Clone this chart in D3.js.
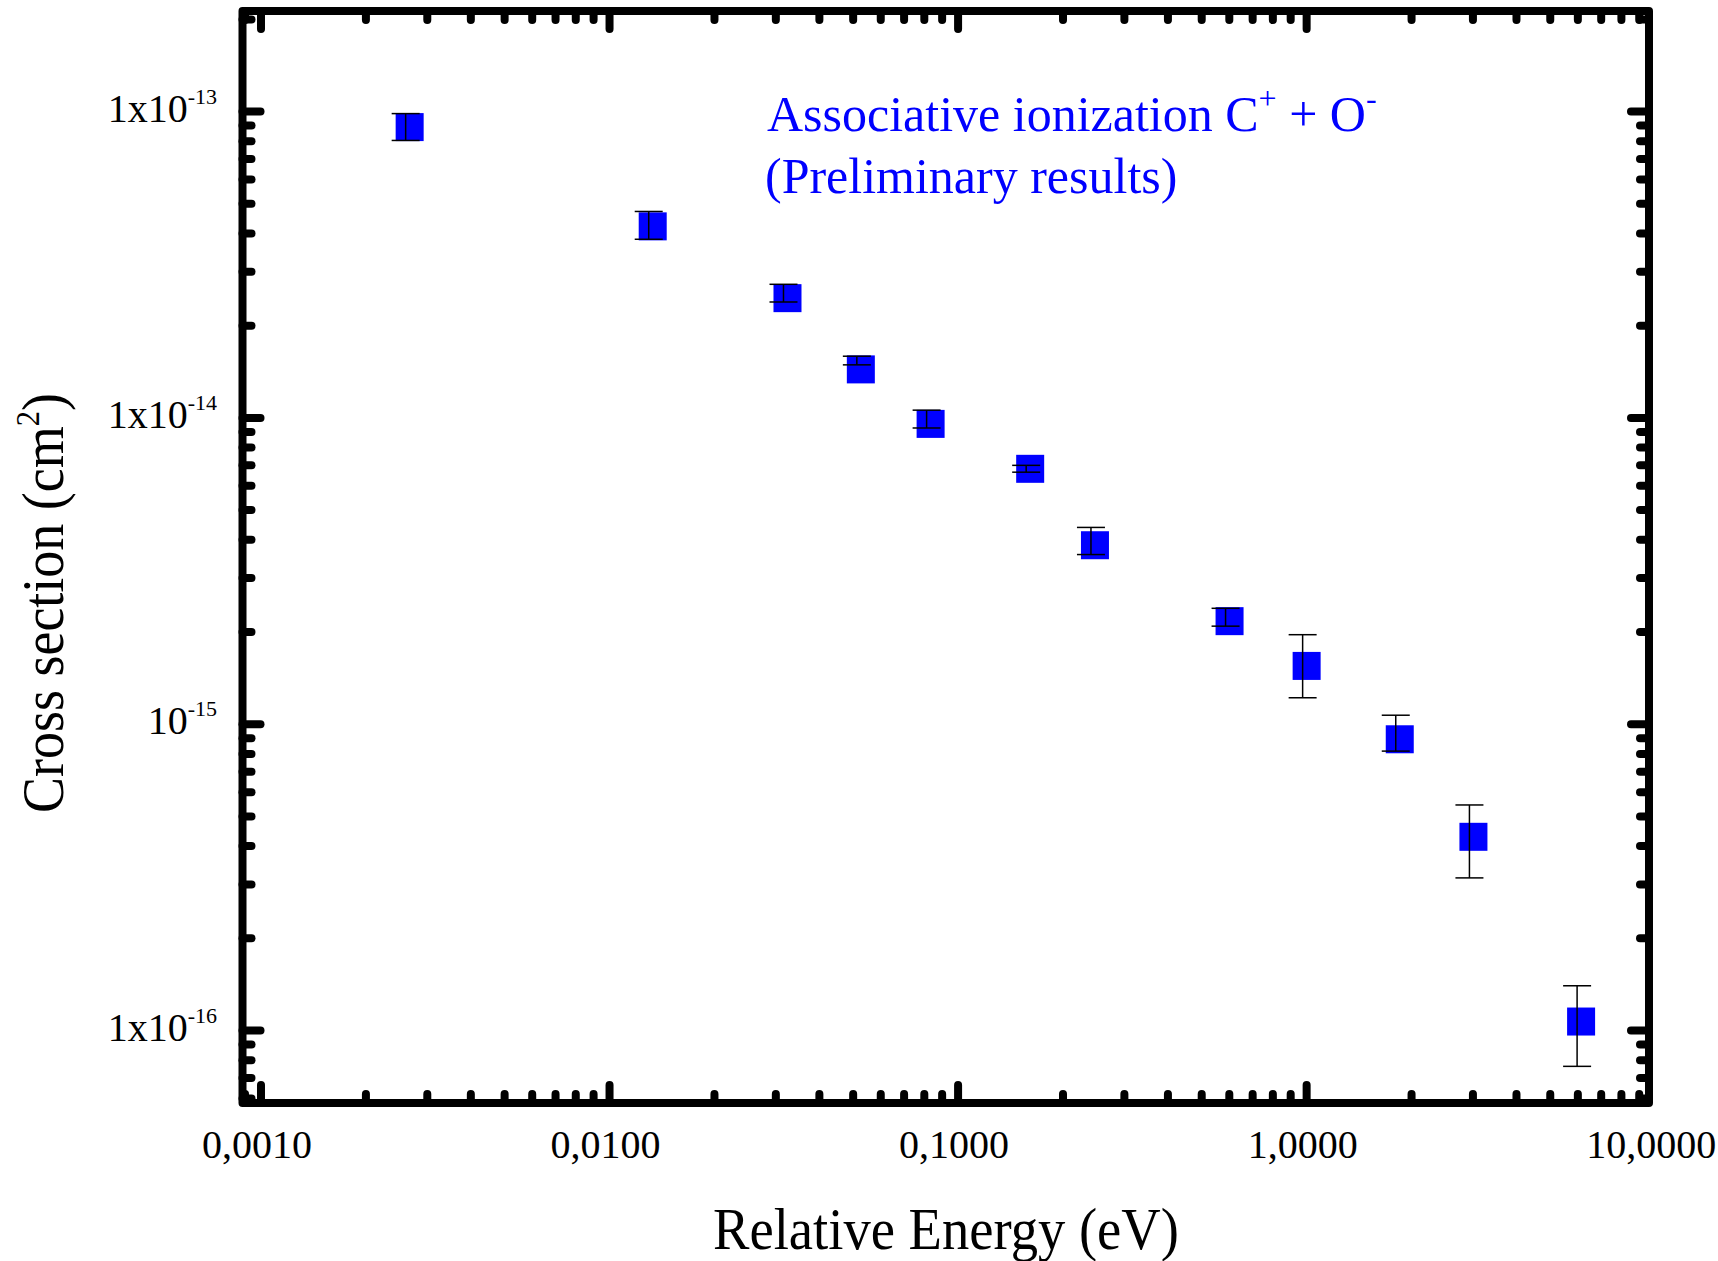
<!DOCTYPE html>
<html>
<head>
<meta charset="utf-8">
<script src="https://cdn.jsdelivr.net/npm/d3@7"></script>
<style>
  html, body { margin: 0; padding: 0; background: #fff; }
  text { font-family: "Liberation Serif", "Times New Roman", serif; }
</style>
</head>
<body>
<div id="chart"></div>
<script>
// Associative ionization C+ + O- cross section vs relative energy (log-log)
const width = 1718;
const height = 1261;

// data
const energy = [0.00267, 0.0133, 0.0324, 0.0526, 0.0834, 0.161, 0.247, 0.601, 1.0, 1.85, 3.01, 6.13];
const crossSection = [8.9e-14, 4.22e-14, 2.46e-14, 1.44e-14, 9.56e-15, 6.82e-15, 3.84e-15, 2.17e-15, 1.55e-15, 8.93e-16, 4.29e-16, 1.07e-16];
const errUpper = [9.85e-14, 4.72e-14, 2.73e-14, 1.59e-14, 1.06e-14, 7.0e-15, 4.39e-15, 2.39e-15, 1.96e-15, 1.07e-15, 5.45e-16, 1.40e-16];
const errLower = [8.05e-14, 3.83e-14, 2.39e-14, 1.49e-14, 9.27e-15, 6.65e-15, 3.58e-15, 2.09e-15, 1.22e-15, 8.17e-16, 3.15e-16, 7.64e-17];

// axes
const xDomain = [0.000885, 9.6];
const yDomain = [5.8e-17, 2.13e-13];
const xTickLabels = ["0,0010", "0,0100", "0,1000", "1,0000", "10,0000"];
const xTickValues = [0.001, 0.01, 0.1, 1, 10];
const yTickValues = [1e-13, 1e-14, 1e-15, 1e-16];
const yTickMant = ["1x10", "1x10", "10", "1x10"];
const yTickExp = ["-13", "-14", "-15", "-16"];

const frame = { left: 242.5, right: 1649, top: 11, bottom: 1103 };
const blue = "#0000ff";

const svg = d3.select("#chart")
  .append("svg")
  .attr("width", width)
  .attr("height", height);

svg.append("rect").attr("width", width).attr("height", height).attr("fill", "white");

const x = d3.scaleLog().domain(xDomain).range([frame.left, frame.right]);
const y = d3.scaleLog().domain(yDomain).range([frame.bottom, frame.top]);

const isMajor = v => Math.abs(Math.log10(v) - Math.round(Math.log10(v))) < 1e-9;
const majorLen = 18, minorLen = 9;

// ticks on all four sides, pointing inwards, round ends
const tickG = svg.append("g")
  .attr("stroke", "black")
  .attr("stroke-width", 8)
  .attr("stroke-linecap", "round");

x.ticks().filter(v => v >= xDomain[0] && v <= xDomain[1]).forEach(v => {
  const len = isMajor(v) ? majorLen : minorLen;
  tickG.append("line").attr("x1", x(v)).attr("x2", x(v))
    .attr("y1", frame.bottom).attr("y2", frame.bottom - len);
  tickG.append("line").attr("x1", x(v)).attr("x2", x(v))
    .attr("y1", frame.top).attr("y2", frame.top + len);
});

y.ticks().filter(v => v >= yDomain[0] && v <= yDomain[1]).forEach(v => {
  const len = isMajor(v) ? majorLen : minorLen;
  tickG.append("line").attr("y1", y(v)).attr("y2", y(v))
    .attr("x1", frame.left).attr("x2", frame.left + len);
  tickG.append("line").attr("y1", y(v)).attr("y2", y(v))
    .attr("x1", frame.right).attr("x2", frame.right - len);
});

// frame
svg.append("rect")
  .attr("x", frame.left)
  .attr("y", frame.top)
  .attr("width", frame.right - frame.left)
  .attr("height", frame.bottom - frame.top)
  .attr("fill", "none")
  .attr("stroke", "black")
  .attr("stroke-width", 8)
  .attr("stroke-linejoin", "round");

// x tick labels
svg.selectAll(".x-label")
  .data(xTickValues)
  .enter()
  .append("text")
  .attr("class", "x-label")
  .attr("x", d => x(d) - 4)
  .attr("y", 1158)
  .attr("text-anchor", "middle")
  .attr("font-size", 40)
  .text((d, i) => xTickLabels[i]);

// y tick labels with superscript exponent
const yLab = svg.selectAll(".y-label")
  .data(yTickValues)
  .enter()
  .append("text")
  .attr("class", "y-label")
  .attr("x", 217)
  .attr("y", d => y(d) + 10)
  .attr("text-anchor", "end")
  .attr("font-size", 40);
yLab.append("tspan").text((d, i) => yTickMant[i]);
yLab.append("tspan").attr("font-size", 22).attr("dy", -18).text((d, i) => yTickExp[i]);

// squares
const size = 28;
svg.selectAll(".pt")
  .data(energy)
  .enter()
  .append("rect")
  .attr("class", "pt")
  .attr("x", d => x(d) - size / 2)
  .attr("y", (d, i) => y(crossSection[i]) - size / 2)
  .attr("width", size)
  .attr("height", size)
  .attr("fill", blue);

// error bars drawn on top
const errG = svg.append("g").attr("stroke", "black").attr("stroke-width", 1.5);
energy.forEach((e, i) => {
  const cx = x(e) - 4;
  errG.append("line").attr("x1", cx).attr("x2", cx)
    .attr("y1", y(errUpper[i])).attr("y2", y(errLower[i]));
  [errUpper[i], errLower[i]].forEach(v => {
    errG.append("line").attr("x1", cx - size / 2).attr("x2", cx + size / 2)
      .attr("y1", y(v)).attr("y2", y(v));
  });
});

// annotation
const note = svg.append("g").attr("fill", blue).attr("font-size", 50);
const line1 = note.append("text").attr("x", 767).attr("y", 131);
line1.append("tspan").text("Associative ionization C");
line1.append("tspan").attr("font-size", 32).attr("dy", -22).text("+");
line1.append("tspan").attr("dy", 22).text(" + O");
line1.append("tspan").attr("font-size", 32).attr("dy", -22).text("-");
note.append("text").attr("x", 765).attr("y", 193).text("(Preliminary results)");

// axis titles
svg.append("text")
  .attr("transform", "translate(946,1249) scale(0.91,1)")
  .attr("text-anchor", "middle")
  .attr("font-size", 60)
  .text("Relative Energy (eV)");

const yTitle = svg.append("text")
  .attr("transform", "translate(63,603) rotate(-90) scale(0.9,1)")
  .attr("text-anchor", "middle")
  .attr("font-size", 60);
yTitle.append("tspan").text("Cross section (cm");
yTitle.append("tspan").attr("font-size", 34).attr("dy", -24).text("2");
yTitle.append("tspan").attr("dy", 24).text(")");
</script>
</body>
</html>
